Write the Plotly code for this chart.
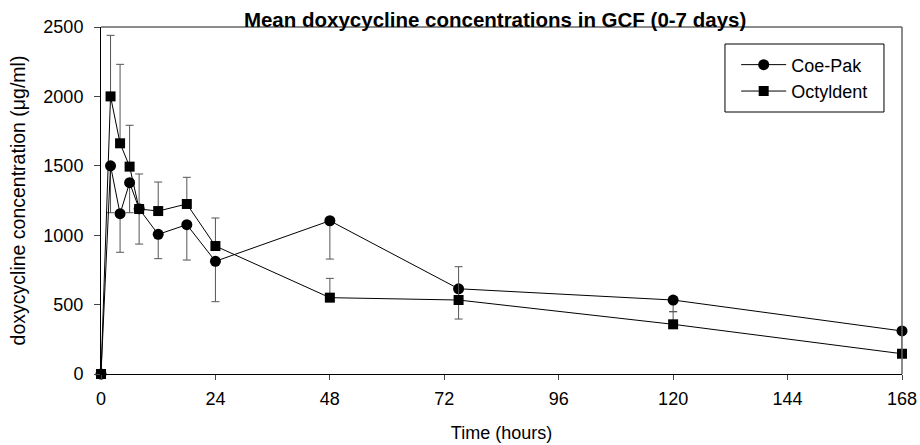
import plotly.graph_objects as go

time_h = [0, 2, 4, 6, 8, 12, 18, 24, 48, 75, 120, 168]
coe_pak = [0, 1500, 1155, 1378, 1190, 1006, 1076, 812, 1104, 614, 533, 310]
coe_pak_err_down = [0, 338, 278, 216, 254, 175, 255, 291, 276, 218, 84, 150]
octyldent = [0, 2000, 1662, 1494, 1189, 1174, 1225, 922, 550, 533, 358, 146]
octyldent_err_up = [0, 440, 569, 298, 252, 209, 192, 202, 139, 240, 91, 0]
zeros = [0] * len(time_h)

x_ticks = [0, 24, 48, 72, 96, 120, 144, 168]
y_ticks = [0, 500, 1000, 1500, 2000, 2500]

FONT = "Liberation Sans, Arial, sans-serif"

fig = go.Figure()
fig.add_trace(go.Scatter(
    x=time_h, y=coe_pak, name="Coe-Pak", mode="lines+markers",
    line=dict(color="black", width=1),
    marker=dict(symbol="circle", size=11, color="black"),
    error_y=dict(type="data", symmetric=False, array=zeros, arrayminus=coe_pak_err_down,
                 color="#555555", thickness=1, width=4),
    cliponaxis=False,
))
fig.add_trace(go.Scatter(
    x=time_h, y=octyldent, name="Octyldent", mode="lines+markers",
    line=dict(color="black", width=1),
    marker=dict(symbol="square", size=10, color="black"),
    error_y=dict(type="data", symmetric=False, array=octyldent_err_up, arrayminus=zeros,
                 color="#555555", thickness=1, width=4),
    cliponaxis=False,
))

fig.update_layout(
    width=920, height=445,
    margin=dict(l=101, r=18, t=27, b=71),
    paper_bgcolor="white", plot_bgcolor="white",
    font=dict(family=FONT, size=18, color="black"),
    title=dict(text="<b>Mean doxycycline concentrations in GCF (0-7 days)</b>",
               x=0.492, xanchor="center", xref="paper", y=1, yref="paper", yanchor="bottom",
               pad=dict(b=0), font=dict(size=20.5, family=FONT)),
    showlegend=True,
    legend=dict(x=0.793, y=0.944, xanchor="left", yanchor="top",
                bgcolor="rgba(0,0,0,0)", borderwidth=0, itemwidth=45,
                font=dict(size=18, family=FONT), tracegroupgap=0),
    shapes=[
        dict(type="rect", xref="paper", yref="paper", x0=0.779, x1=0.9775, y0=0.755, y1=0.951,
             line=dict(color="black", width=1), fillcolor="rgba(0,0,0,0)"),
        dict(type="line", xref="paper", yref="paper", x0=0, x1=1, y0=1, y1=1,
             line=dict(color="#666666", width=1.5)),
        dict(type="line", xref="paper", yref="paper", x0=1, x1=1, y0=0, y1=1,
             line=dict(color="#666666", width=1.5)),
    ],
)
fig.update_xaxes(
    range=[0, 168], tickvals=x_ticks, ticktext=[str(v) for v in x_ticks],
    showgrid=False, zeroline=False, showline=True, linecolor="black", linewidth=1,
    ticks="outside", ticklen=5, tickcolor="#444444", automargin=False,
    ticklabelstandoff=3,
    title=dict(text="Time (hours)", font=dict(size=18, family=FONT), standoff=18),
    tickfont=dict(size=18, family=FONT),
)
fig.update_yaxes(
    range=[0, 2500], tickvals=y_ticks, ticktext=[str(v) for v in y_ticks],
    showgrid=False, zeroline=False, showline=True, linecolor="black", linewidth=1,
    ticks="outside", ticklen=6, tickcolor="#444444", automargin=False,
    ticklabelstandoff=7,
    title=dict(text="doxycycline concentration (μg/ml)", font=dict(size=19.5, family=FONT), standoff=12),
    tickfont=dict(size=18, family=FONT),
)

fig.write_html("out.html", config={"displayModeBar": False},
               post_script="document.body.style.margin='0px';document.body.style.overflow='hidden';")
